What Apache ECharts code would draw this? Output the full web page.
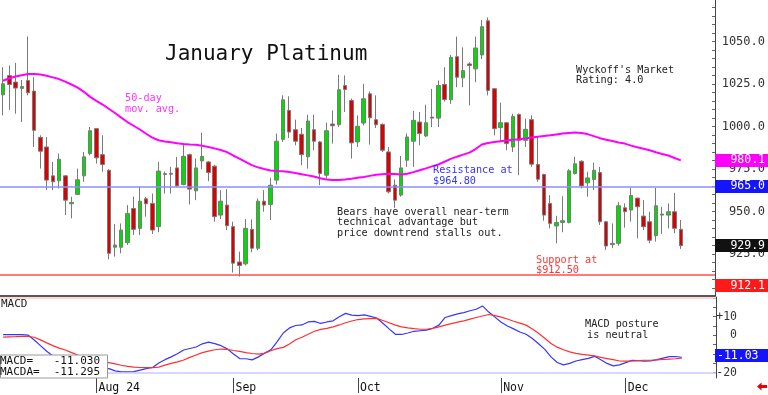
<!DOCTYPE html>
<html><head><meta charset="utf-8">
<script src="https://cdn.jsdelivr.net/npm/echarts@6/dist/echarts.min.js"></script>
<style>html,body{margin:0;padding:0;background:#fff}#c{width:768px;height:395px}</style>
</head><body><div id="c"></div>
<script>
// ---- data ----
const holidays = ['2024-09-02', '2024-11-28'];
const firstDay = '2024-07-11', lastDay = '2024-12-13';
const opens = [1018.7,1030.1,1026.2,1022.5,1027.2,1020.9,993.7,988.0,971.0,968.1,
971.0,954.6,960.1,971.0,984.1,998.8,983.5,974.3,929.0,929.0,
931.7,951.8,940.1,957.5,954.8,941.1,972.3,972.5,975.7,965.9,
983.5,962.2,979.8,979.2,976.7,947.9,953.8,941.1,920.3,919.2,
939.5,928.4,956.1,954.2,968.5,992.5,1009.5,998.2,995.5,982.2,
998.2,991.0,971.4,1001.5,1001.1,1024.2,1015.4,991.0,1002.1,1019.3,
1004.1,1001.3,985.1,965.5,959.7,980.2,991.4,1002.7,994.5,1005.6,
1005.0,1024.8,1015.8,1041.2,1028.7,1036.9,1034.0,1042.2,1062.3,1022.3,
999.4,1002.3,988.0,1007.2,991.9,1004.1,977.7,971.8,954.8,941.5,
943.6,943.6,972.4,979.6,966.9,968.9,973.0,944.0,930.5,931.3,
952.2,950.9,957.9,947.3,944.0,935.8,947.9,947.9,949.9,939.5];
const closes = [1025.2,1024.8,1022.7,1023.6,1019.9,997.8,985.5,968.5,967.5,980.8,
956.7,955.4,968.7,982.2,997.6,981.6,977.7,925.4,930.3,939.1,
948.9,939.5,956.1,954.6,939.1,973.8,971.8,972.0,965.1,982.5,
963.2,975.7,982.5,973.0,947.0,956.1,941.7,919.6,918.2,940.1,
928.4,956.1,953.8,965.5,991.4,1015.8,996.8,991.4,983.5,1003.3,
991.4,972.4,997.6,1000.5,1021.7,1021.9,990.4,1000.2,1016.4,1005.2,
1001.1,986.1,961.6,956.7,975.7,993.9,1003.7,995.9,1002.3,1005.0,
1024.2,1016.0,1040.8,1029.1,1033.0,1036.0,1046.3,1058.8,1021.3,998.8,
1002.3,990.0,1006.0,991.9,998.4,977.9,969.0,947.9,943.0,943.6,
944.6,974.0,978.1,965.1,969.8,974.3,944.0,929.7,931.3,953.4,
949.9,959.5,952.8,941.1,933.1,953.4,948.5,949.9,940.1,929.9];
const lows = [1006.6,1009.9,1007.6,1002.7,1018.4,988.0,975.3,962.6,962.6,963.6,
947.9,946.0,959.7,967.5,983.1,978.3,973.4,921.9,923.5,925.4,
930.3,936.2,936.2,947.0,936.8,937.8,960.6,960.6,964.6,965.5,
954.2,956.7,974.9,967.9,944.0,945.6,939.1,914.1,911.7,918.2,
926.0,927.2,949.9,945.0,965.9,991.0,993.3,989.0,977.3,975.3,
986.1,965.5,969.4,990.0,999.8,1008.6,981.2,988.0,1000.7,989.4,
999.2,985.0,960.6,952.2,958.7,976.3,976.3,989.0,993.9,999.7,
999.8,1014.8,1013.4,1023.2,1023.2,1012.5,1026.2,1039.8,1018.4,994.9,
991.4,986.1,985.1,971.4,988.0,976.3,967.5,944.6,940.1,931.3,
937.8,943.0,971.8,963.6,958.7,962.6,942.1,927.4,928.4,929.9,
940.5,944.0,934.2,939.1,931.3,932.3,936.8,940.1,937.2,928.0];
const highs = [1035.0,1036.0,1037.5,1027.5,1053.1,1029.1,994.9,993.9,979.2,984.1,
971.4,958.7,975.3,985.1,999.8,999.2,994.9,974.9,942.6,943.0,
953.8,958.7,964.6,958.7,960.6,979.2,973.5,976.3,982.2,990.0,
984.1,981.2,996.4,979.8,977.5,962.6,963.2,944.0,926.4,945.6,
945.4,957.7,962.6,969.8,995.9,1018.4,1017.8,1004.1,999.2,1007.0,
1007.0,991.5,1002.3,1009.5,1030.5,1030.1,1016.5,1006.6,1025.2,1020.7,
1018.4,1002.0,988.0,968.9,982.7,995.9,1009.3,1008.6,1012.9,1022.2,
1027.2,1035.0,1042.2,1053.0,1046.7,1037.9,1053.0,1062.7,1064.3,1022.8,
1014.0,1002.8,1007.6,1007.7,1004.7,1006.6,993.9,972.3,959.7,947.5,
959.0,974.9,982.2,980.2,973.4,978.8,976.3,944.4,943.0,955.7,
954.8,964.0,958.1,956.7,949.9,964.0,952.8,954.8,961.0,945.0];
const ma50 = [1027,1028.5,1029.5,1030.3,1031,1031,1030.7,1030,1029,1028,
1026.5,1024.8,1023,1020.5,1017.5,1015.2,1013,1010.5,1008,1005.3,
1002.7,1000.5,998.3,995.8,993.5,992,991.3,990.8,990.2,989.8,
989.5,989.3,988.8,988,987.2,986.2,985,983,981.2,979.2,
977.3,976,975,974.2,973.9,973.7,973.3,972.7,972,971.3,
970.6,969.6,968.9,968.5,968.6,968.8,969.3,969.9,970.4,971,
971.6,972,972.3,972.1,971.8,972.3,973.2,974.3,975.4,976.6,
977.7,979.3,981,982.3,983.5,984.7,986.8,989.5,990.4,991,
991.4,991.8,992.2,992.5,993,993.6,994.1,994.5,994.9,995.4,
995.9,996.3,996.5,996.2,995.6,994.4,993.2,992.3,991.5,990.7,
990,988.8,987.8,987,986.1,984.9,983.9,983,981.5,980.1];
const macd = [0.4,0.4,0.4,0.4,0.2,-2.5,-5.5,-8.5,-11,-12.5,
-14,-15,-15.8,-16.5,-17,-17.3,-17.5,-17.8,-19,-19.5,
-19.5,-19.4,-18.6,-17.8,-17.2,-14.8,-13,-11.5,-9.8,-7.8,
-7,-6.2,-4.5,-3.6,-4.4,-5.5,-7.2,-10,-12.4,-12.5,
-13.1,-11.5,-9.5,-7.7,-3.5,1.3,4.0,5.3,5.6,7.2,
7.5,6.4,7.2,7.8,10,11.8,10.9,10.6,11,10.2,
9.3,6.5,3.5,0.6,0.5,1.3,2.2,2.5,2.8,3.8,
5.5,9.6,10.6,11.5,12.2,13.2,14,15.8,12.5,9.8,
7,5,3.5,1.8,0.6,-1.7,-4.5,-7.5,-11.5,-14.5,
-15.8,-15,-13.7,-13,-12.3,-11.2,-13,-15,-16.3,-15.8,
-14.6,-13.4,-13.5,-13.8,-13.7,-13,-12.2,-11.4,-11.3,-11.7];
const macdAvg = [-0.9,-0.8,-0.7,-0.5,-0.5,-1,-2.4,-4,-5.5,-6.8,
-7.8,-9.2,-10.5,-11.5,-12.4,-13.2,-14,-14.6,-15.3,-16,
-16.6,-17,-17.2,-17.3,-17.3,-17,-15.9,-15,-14.2,-13.2,
-11.8,-10.5,-9.2,-8.4,-7.7,-7.3,-7.5,-8.1,-8.6,-9.2,
-9.7,-10,-9.6,-8.2,-7.1,-6.4,-4.6,-2.3,-1,0.6,
2.2,3.2,3.8,4.6,5.6,6.8,7.7,8.5,8.8,9,
9.1,8,6.8,5.5,4.6,4,3.6,3.3,3.3,3.8,
4.6,5.5,6.3,7.1,7.8,8.7,9.6,10.4,11.2,10.6,
9.8,8.8,7.6,6.6,5.5,3.4,1.2,-1.5,-4.3,-6.3,
-7.7,-8.8,-9.6,-10.2,-10.6,-11,-11.8,-12.4,-13,-13.7,
-13.8,-13.7,-13.5,-13.3,-13.3,-13.1,-12.9,-12.7,-12.5,-12.2];
const monthLabels = {15: 'Aug 24', 37: 'Sep', 57: 'Oct', 80: 'Nov', 100: 'Dec'};
const priceTicks = [925, 950, 975, 1000, 1025, 1050];
const macdTicks = [10, 0, -20];
const resistance = 964.8, support = 912.5;
const macdBands = [20, -20];
const boxLabels = [
  {value: 980.1, text: '980.1', bg: '#ff00ff'},
  {value: 965.0, text: '965.0', bg: '#1414ff'},
  {value: 929.9, text: '929.9', bg: '#111111'},
  {value: 912.1, text: '912.1', bg: '#ff1a1a', dy: 10}
];
const macdLast = -11.03, macdAvgLast = -11.295;

// ---- categories (trading days) ----
const cats = [];
(function(){
  let d = new Date(firstDay + 'T00:00:00Z'); const end = new Date(lastDay + 'T00:00:00Z');
  while (d <= end) {
    const s = d.toISOString().slice(0,10), wd = d.getUTCDay();
    if (wd !== 0 && wd !== 6 && holidays.indexOf(s) < 0) cats.push(s);
    d = new Date(d.getTime() + 86400000);
  }
  for (let k = 1; k <= 5; k++) cats.push('pad' + k);
})();
const minorPrice = []; for (let v = 905; v <= 1070; v += 5) minorPrice.push(v);
const minorMacd = []; for (let v = -20; v <= 20; v += 5) minorMacd.push(v);

const mono = 'DejaVu Sans Mono';
const chart = echarts.init(document.getElementById('c'));
const isMonth = (i) => monthLabels[i] !== undefined;

chart.setOption({
  animation: false,
  backgroundColor: '#ffffff',
  grid: [
    {left: 0, right: 52, top: 0, height: 296},
    {left: 0, right: 52, top: 297, height: 81}
  ],
  xAxis: [
    {type: 'category', gridIndex: 0, data: cats, position: 'bottom',
     axisLine: {show: true, onZero: false, lineStyle: {color: '#222', width: 1.5}},
     axisTick: {show: false}, axisLabel: {show: false}, splitLine: {show: false}},
    {type: 'category', gridIndex: 1, data: cats, position: 'bottom',
     axisLine: {show: false, onZero: false},
     axisTick: {show: true, alignWithLabel: true, interval: isMonth, length: 15, lineStyle: {color: '#444'}},
     axisLabel: {interval: isMonth, formatter: (v, i) => monthLabels[i] || '', align: 'left',
       margin: 4, padding: [0, 0, 0, 2], fontFamily: mono, fontSize: 11.5, color: '#111'},
     splitLine: {show: false}}
  ],
  yAxis: [
    {type: 'value', gridIndex: 0, position: 'right', min: 900.27, max: 1074.55,
     splitLine: {show: false},
     axisLine: {show: true, lineStyle: {color: '#444'}},
     axisTick: {show: true, inside: true, length: 3, customValues: minorPrice, lineStyle: {color: '#666'}},
     axisLabel: {customValues: priceTicks, formatter: v => v.toFixed(1), align: 'right', margin: 50,
       fontFamily: mono, fontSize: 12, color: '#333'}},
    {type: 'value', gridIndex: 1, position: 'right', min: -22.82, max: 20.57,
     splitLine: {show: false},
     axisLine: {show: true, lineStyle: {color: '#444'}},
     axisTick: {show: true, inside: true, length: 3, customValues: minorMacd, lineStyle: {color: '#666'}},
     axisLabel: {customValues: macdTicks, formatter: v => v > 0 ? '+' + v : String(v), align: 'right', margin: 21,
       fontFamily: mono, fontSize: 11.5, color: '#333'}}
  ],
  series: [
    {type: 'candlestick', xAxisIndex: 0, yAxisIndex: 0, barWidth: 4,
     data: opens.map((o, i) => [o, closes[i], lows[i], highs[i]]),
     itemStyle: {color: '#00dd00', color0: '#dd0000', borderColor: '#7a7a7a', borderColor0: '#7a7a7a', borderWidth: 1},
     markLine: {silent: true, symbol: 'none', label: {show: false},
       lineStyle: {color: '#ff5050', width: 1.5, type: 'solid', opacity: 1},
       data: [{yAxis: support}]}},
    {type: 'line', xAxisIndex: 0, yAxisIndex: 0, data: ma50, symbol: 'none',
     lineStyle: {color: '#ff00ff', width: 2}, z: 3,
     markLine: {silent: true, symbol: 'none', label: {show: false},
       lineStyle: {color: '#8c8cff', width: 1.5, type: 'solid'},
       data: [{yAxis: resistance}]}},
    {type: 'line', xAxisIndex: 1, yAxisIndex: 1, data: macd, symbol: 'none',
     lineStyle: {color: '#3636ff', width: 1.2},
     markLine: {silent: true, symbol: 'none', label: {show: false},
       data: [
         {yAxis: macdBands[0], lineStyle: {color: '#ffc8c8', width: 1.5, type: 'solid'}},
         {yAxis: macdBands[1], lineStyle: {color: '#c8c8ff', width: 1.5, type: 'solid'}}
       ]}},
    {type: 'line', xAxisIndex: 1, yAxisIndex: 1, data: macdAvg, symbol: 'none',
     lineStyle: {color: '#ff3030', width: 1.2}}
  ]
});

// ---- annotations ----
const g = [];
function txt(x, y, text, fill, size, align) {
  g.push({type: 'text', x: x, y: y, z: 50,
    style: {text: text, fill: fill, font: size + 'px "' + mono + '"', textVerticalAlign: 'middle', textAlign: align || 'left'}});
}
txt(165, 55, 'January Platinum', '#111', 21);
txt(125, 98, '50-day', '#ff33ff', 10.2);
txt(125, 109, 'mov. avg.', '#ff33ff', 10.2);
txt(576, 70, "Wyckoff's Market", '#222', 10.2);
txt(576, 80.5, 'Rating: 4.0', '#222', 10.2);
txt(433, 170, 'Resistance at', '#3333ff', 10.2);
txt(433, 181, '$964.80', '#3333ff', 10.2);
txt(337, 212, 'Bears have overall near-term', '#222', 10.2);
txt(337, 222.5, 'technical advantage but', '#222', 10.2);
txt(337, 233, 'price downtrend stalls out.', '#222', 10.2);
txt(536, 260, 'Support at', '#ff3333', 10.2);
txt(536, 270.5, '$912.50', '#ff3333', 10.2);
txt(585, 324, 'MACD posture', '#222', 10.2);
txt(587, 335, 'is neutral', '#222', 10.2);
txt(1, 304, 'MACD', '#222', 11);

// MACD value box
g.push({type: 'rect', z: 40, shape: {x: 0.5, y: 355, width: 107, height: 23},
  style: {fill: '#fff', stroke: '#999', lineWidth: 1}});
txt(0, 361, 'MACD=', '#111', 11);
txt(0, 372.5, 'MACDA=', '#111', 11);
txt(100, 361, macdLast.toFixed(3), '#111', 11, 'right');
txt(100, 372.5, macdAvgLast.toFixed(3), '#111', 11, 'right');

// right-side value boxes
boxLabels.forEach(b => {
  const yc = chart.convertToPixel({yAxisIndex: 0}, b.value) + (b.dy || 0);
  g.push({type: 'rect', z: 60, shape: {x: 715, y: Math.round(yc - 6.5), width: 53, height: 13}, style: {fill: b.bg}});
  g.push({type: 'text', z: 61, x: 765, y: yc, style: {text: b.text, fill: '#fff', font: '11.5px "' + mono + '"', textAlign: 'right', textVerticalAlign: 'middle'}});
});
{
  const yc = chart.convertToPixel({yAxisIndex: 1}, macdLast);
  g.push({type: 'rect', z: 60, shape: {x: 715, y: Math.round(yc - 6.5), width: 53, height: 13}, style: {fill: '#1414ff'}});
  g.push({type: 'text', z: 61, x: 717, y: yc, style: {text: macdLast.toFixed(2), fill: '#fff', font: '11.5px "' + mono + '"', textAlign: 'left', textVerticalAlign: 'middle'}});
}
// small red arrow bottom right
g.push({type: 'polygon', z: 60, shape: {points: [[757, 386.5], [761.5, 382.5], [761.5, 385], [767, 385], [767, 388], [761.5, 388], [761.5, 390.5]]}, style: {fill: '#ee0000'}});

chart.setOption({graphic: g});
</script>
</body></html>
